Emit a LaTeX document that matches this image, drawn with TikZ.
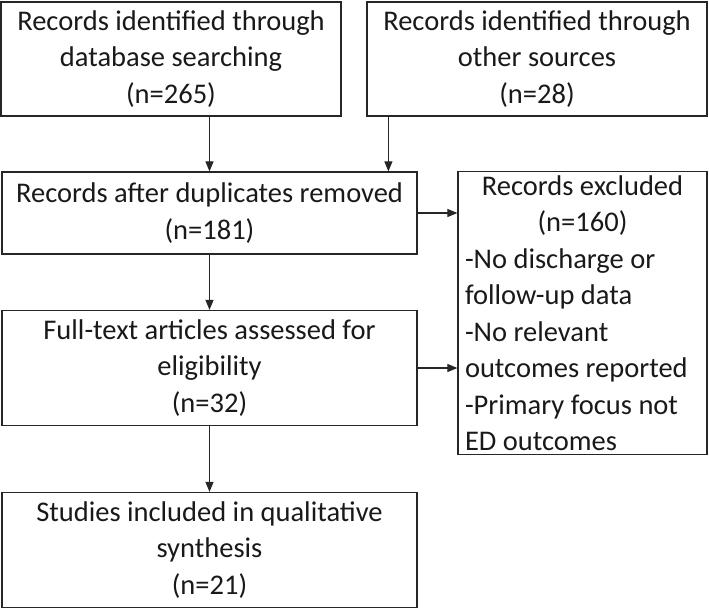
\documentclass[tikz,border=0pt]{standalone}
\usepackage{fontspec}
\setmainfont{Carlito}
\usetikzlibrary{arrows.meta,calc}
\begin{document}
\begin{tikzpicture}[x=1pt,y=-1pt,
  box/.style={draw=black!85, line width=1.2pt, align=center, inner sep=0pt,
    font=\fontsize{28.5}{36.5}\selectfont, text=black!90},
  arr/.style={draw=black!85, line width=1.1pt, -{Triangle[length=10pt,width=8pt]}}]
\useasboundingbox (0,0) rectangle (709,608);
\node[box, minimum width=340pt, minimum height=114pt] (b1) at (171,59)
  {Records identified through\\database searching\\(n=265)};
\node[box, minimum width=340pt, minimum height=114pt] (b2) at (537,59)
  {Records identified through\\other sources\\(n=28)};
\node[box, minimum width=415pt, minimum height=82pt] (b3) at (209.5,213)
  {Records after duplicates removed\\(n=181)};
\node[box, minimum width=249pt, minimum height=283pt, align=left,
  font=\fontsize{28.5}{36.5}\selectfont] (b4) at (582.5,313)
  {\makebox[235pt]{Records excluded}\\\makebox[235pt]{(n=160)}\\-No discharge or\\follow-up data\\-No relevant\\outcomes reported\\-Primary focus not\\ED outcomes};
\node[box, minimum width=415pt, minimum height=115pt] (b5) at (209.5,368)
  {Full-text articles assessed for\\eligibility\\(n=32)};
\node[box, minimum width=415pt, minimum height=115pt] (b6) at (209.5,550)
  {Studies included in qualitative\\synthesis\\(n=21)};
\draw[arr] (b1.south -| b3.north) -- (b3.north);
\coordinate (a2) at ($(b2.south west)+(22,0)$);
\draw[arr] (a2) -- (a2 |- b3.north);
\draw[arr] (b3.east) -- (b3.east -| b4.west);
\draw[arr] (b3.south) -- (b5.north);
\draw[arr] (b5.east) -- (b5.east -| b4.west);
\draw[arr] (b5.south) -- (b6.north);
\end{tikzpicture}
\end{document}
